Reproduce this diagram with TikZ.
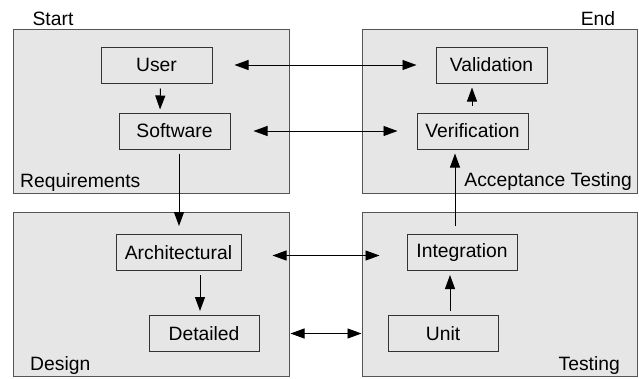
\documentclass[tikz,border=0pt]{standalone}
\usepackage{fontspec}
\setmainfont{Liberation Sans}
\usetikzlibrary{arrows.meta}
\definecolor{panelfill}{HTML}{E6E6E6}
\definecolor{panelline}{HTML}{555555}
\definecolor{boxline}{HTML}{333333}
\begin{document}
\begin{tikzpicture}[x=1pt,y=-1pt,
  panel/.style={draw=panelline,fill=panelfill,line width=1pt},
  stage/.style={draw=boxline,line width=1pt,rectangle,inner sep=0pt,
    minimum height=36pt,font=\fontsize{19.3}{21}\selectfont},
  lbl/.style={inner sep=0pt,font=\fontsize{19.3}{21}\selectfont},
  arr/.style={line width=0.95pt,-{Triangle[length=14pt,width=10pt]}},
  darr/.style={line width=0.95pt,{Triangle[length=14pt,width=10pt]}-{Triangle[length=14pt,width=10pt]}}]
\useasboundingbox (0,0) rectangle (639,378);
% panels
\draw[panel] (13,29) rectangle (289,193);
\draw[panel] (362,29) rectangle (637,193);
\draw[panel] (13,212) rectangle (289,376);
\draw[panel] (362,212) rectangle (637,376);
% panel labels
\node[lbl,anchor=base] (start) at (53,25) {Start};
\node[lbl,anchor=base] (end) at (598,25) {End};
\node[lbl,anchor=base west] (req) at (20,187) {Requirements};
\node[lbl,anchor=base east] (acc) at (632,186) {Acceptance Testing};
\node[lbl,anchor=base west] (des) at (30,370) {Design};
\node[lbl,anchor=base east] (tst) at (620,370) {Testing};
% stages
\node[stage,minimum width=111pt] (user) at (156.5,65) {User};
\node[stage,minimum width=111pt] (soft) at (174.5,131) {Software};
\node[stage,minimum width=111pt] (val) at (491.5,65) {Validation};
\node[stage,minimum width=111pt] (ver) at (472.5,131) {Verification};
\node[stage,minimum width=125pt] (arch) at (178.5,252.5) {Architectural};
\node[stage,minimum width=110pt] (det) at (204,333.5) {Detailed};
\node[stage,minimum width=110pt] (integ) at (462,252.5) {Integration};
\node[stage,minimum width=110pt] (unit) at (443,333.5) {Unit};
% vertical arrows
\draw[arr,shorten <=5pt,shorten >=3pt] ([xshift=4pt]user.south) -- ([xshift=-14.5pt]soft.north);
\draw[arr,shorten <=7pt,shorten >=4pt] ([xshift=-0.5pt]ver.north) -- ([xshift=-19.5pt]val.south);
\draw[arr,shorten <=4pt,shorten >=8pt] ([xshift=4.5pt]soft.south) -- ([xshift=0.5pt]arch.north);
\draw[arr,shorten <=8pt,shorten >=4pt] ([xshift=-7pt]integ.north) -- ([xshift=-17.5pt]ver.south);
\draw[arr,shorten <=4pt,shorten >=4pt] ([xshift=21.5pt]arch.south) -- ([xshift=-4pt]det.north);
\draw[arr,shorten <=4pt,shorten >=4pt] ([xshift=7pt]unit.north) -- ([xshift=-12pt]integ.south);
% horizontal double arrows
\draw[darr,shorten <=22pt,shorten >=19pt] (user.east) -- (val.west);
\draw[darr,shorten <=23pt,shorten >=19pt] (soft.east) -- (ver.west);
\draw[darr,shorten <=31pt,shorten >=27pt] ([yshift=-3pt]arch.east) -- ([yshift=-3pt]integ.west);
\draw[darr,shorten <=31pt,shorten >=26pt] (det.east) -- (unit.west);
\end{tikzpicture}
\end{document}
